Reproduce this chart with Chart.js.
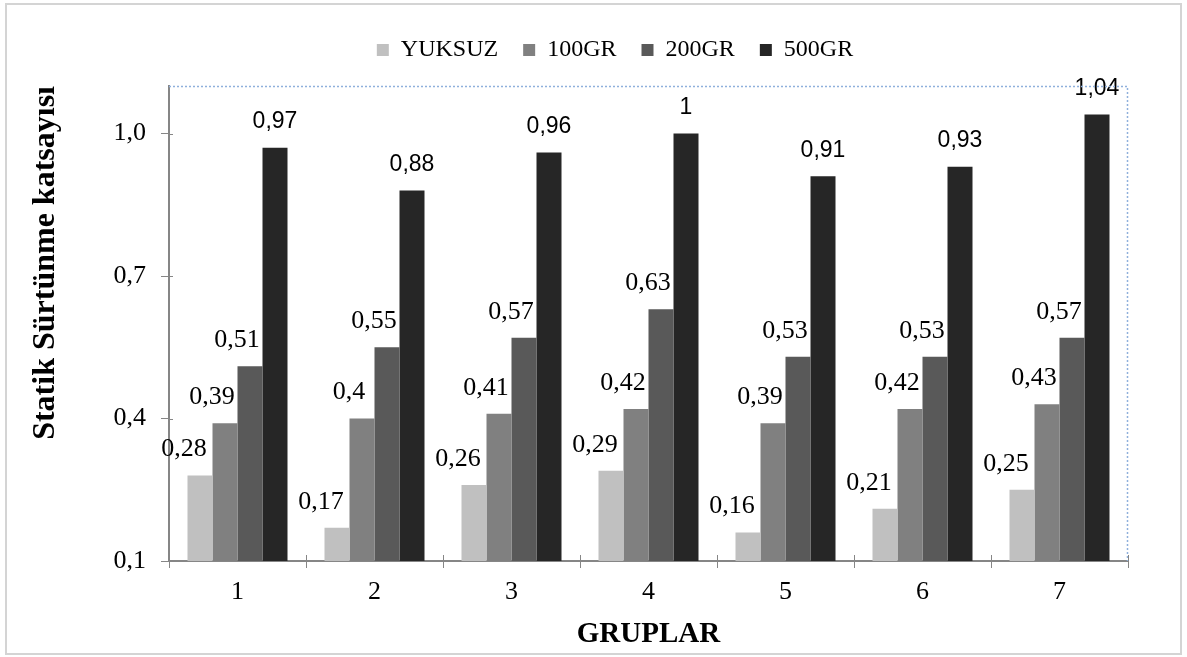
<!DOCTYPE html>
<html>
<head>
<meta charset="utf-8">
<script src="https://cdn.jsdelivr.net/npm/chart.js@4.4.1/dist/chart.umd.min.js"></script>
<style>
  html, body { margin: 0; padding: 0; background: #fff; }
  canvas { display: block; }
</style>
</head>
<body>
<canvas id="chart" width="1187" height="657"></canvas>
<script>
const groups = ['1', '2', '3', '4', '5', '6', '7'];
const seriesNames = ['YUKSUZ', '100GR', '200GR', '500GR'];
const yuksuz = [0.28, 0.17, 0.26, 0.29, 0.16, 0.21, 0.25];
const gr100 = [0.39, 0.40, 0.41, 0.42, 0.39, 0.42, 0.43];
const gr200 = [0.51, 0.55, 0.57, 0.63, 0.53, 0.53, 0.57];
const gr500 = [0.97, 0.88, 0.96, 1.00, 0.91, 0.93, 1.04];
const yTicks = [0.1, 0.4, 0.7, 1.0];

const colors = ['#c0c0c0', '#808080', '#595959', '#262626'];
const serif = "'Liberation Serif', 'Times New Roman', serif";
const sans = "'Liberation Sans', Arial, sans-serif";
const axisGray = '#868686';

function comma(v) {
    return String(v).replace('.', ',');
}

// value labels above the bars (serif for first three series, sans for 500GR)
const barLabels = {
    id: 'barLabels',
    afterDatasetsDraw(chart) {
        const ctx = chart.ctx;
        const shifts = [-16, -13, -13, 0];
        ctx.save();
        ctx.fillStyle = '#000';
        ctx.textAlign = 'center';
        ctx.textBaseline = 'middle';
        chart.data.datasets.forEach((ds, i) => {
            ctx.font = i === 3 ? '23px ' + sans : '26px ' + serif;
            chart.getDatasetMeta(i).data.forEach((bar, j) => {
                ctx.fillText(comma(ds.data[j]), bar.x + shifts[i], bar.y - 26);
            });
        });
        ctx.restore();
    }
};

// outer frame, dotted plot border, inner half of the tick marks
const frame = {
    id: 'frame',
    beforeInit(chart) {
        const lg = chart.legend;
        const fit = lg.fit;
        lg.fit = function () {
            fit.call(this);
            this.height = 73;
        };
    },
    afterLayout(chart) {
        const lg = chart.legend;
        lg.left = 102;
        lg.right = 1128;
    },
    beforeDraw(chart) {
        const ctx = chart.ctx;
        ctx.save();
        ctx.strokeStyle = '#d4d4d4';
        ctx.lineWidth = 2;
        ctx.strokeRect(6, 4, 1175, 650);
        ctx.restore();
    },
    afterDraw(chart) {
        const ctx = chart.ctx;
        const a = chart.chartArea;
        ctx.save();
        ctx.strokeStyle = '#8fb0dc';
        ctx.lineWidth = 1.5;
        ctx.setLineDash([2, 2]);
        ctx.beginPath();
        ctx.moveTo(a.left, a.top + 0.5);
        ctx.lineTo(a.right - 0.5, a.top + 0.5);
        ctx.lineTo(a.right - 0.5, a.bottom);
        ctx.stroke();
        ctx.setLineDash([]);
        ctx.strokeStyle = axisGray;
        ctx.lineWidth = 1;
        const xs = chart.scales.x;
        for (let i = 0; i <= groups.length; i++) {
            const x = Math.round(xs.left + i * xs.width / groups.length) + 0.5;
            ctx.beginPath();
            ctx.moveTo(x, a.bottom - 6);
            ctx.lineTo(x, a.bottom);
            ctx.stroke();
        }
        const ys = chart.scales.y;
        yTicks.forEach(v => {
            const y = Math.round(ys.getPixelForValue(v)) + 0.5;
            ctx.beginPath();
            ctx.moveTo(a.left, y);
            ctx.lineTo(a.left + 4, y);
            ctx.stroke();
        });
        ctx.restore();
    }
};

const seriesData = [yuksuz, gr100, gr200, gr500];

new Chart(document.getElementById('chart'), {
    type: 'bar',
    data: {
        labels: groups,
        datasets: seriesNames.map((name, i) => ({
            label: name,
            data: seriesData[i],
            backgroundColor: colors[i],
            borderWidth: 0,
            categoryPercentage: 0.73,
            barPercentage: 1.0
        }))
    },
    options: {
        responsive: false,
        animation: false,
        devicePixelRatio: 1,
        layout: {
            padding: { left: 0, right: 59, top: 13, bottom: 0 }
        },
        plugins: {
            legend: {
                position: 'top',
                labels: {
                    color: '#000',
                    font: { family: serif, size: 24 },
                    boxWidth: 12,
                    boxHeight: 12,
                    padding: 25
                }
            },
            tooltip: { enabled: false }
        },
        scales: {
            x: {
                type: 'category',
                grid: {
                    drawOnChartArea: false,
                    tickLength: 7,
                    color: axisGray,
                    offset: true
                },
                border: { color: axisGray, width: 2 },
                ticks: {
                    color: '#000',
                    font: { family: serif, size: 26 },
                    padding: 9
                },
                title: {
                    display: true,
                    text: 'GRUPLAR',
                    color: '#000',
                    font: { family: serif, size: 29, weight: 'bold' },
                    padding: { top: 0, bottom: 5 }
                },
                afterFit(scale) {
                    scale.height = 96;
                }
            },
            y: {
                min: 0.1,
                max: 1.1,
                grid: {
                    drawOnChartArea: false,
                    tickLength: 8,
                    color: axisGray
                },
                border: { color: axisGray, width: 2 },
                ticks: {
                    color: '#000',
                    font: { family: serif, size: 26 },
                    padding: 15,
                    callback: v => v.toFixed(1).replace('.', ',')
                },
                afterBuildTicks(scale) {
                    scale.ticks = yTicks.map(v => ({ value: v }));
                },
                title: {
                    display: true,
                    text: 'Statik Sürtünme katsayısı',
                    align: 'end',
                    color: '#000',
                    font: { family: serif, size: 32, weight: 'bold' },
                    padding: { top: 27, bottom: 0 }
                },
                afterFit(scale) {
                    scale.width = 169;
                }
            }
        }
    },
    plugins: [barLabels, frame]
});
</script>
</body>
</html>
